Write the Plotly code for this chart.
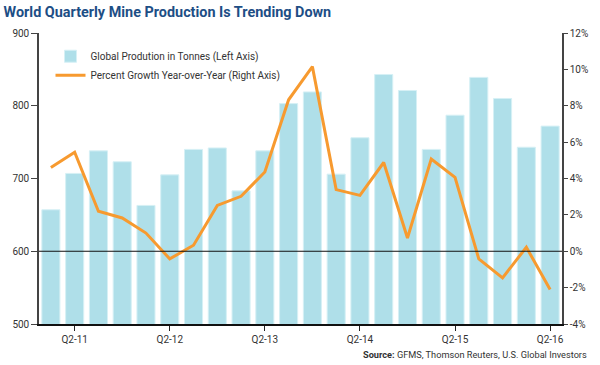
import plotly.graph_objects as go

quarters = ["Q1-11","Q2-11","Q3-11","Q4-11","Q1-12","Q2-12","Q3-12","Q4-12",
            "Q1-13","Q2-13","Q3-13","Q4-13","Q1-14","Q2-14","Q3-14","Q4-14",
            "Q1-15","Q2-15","Q3-15","Q4-15","Q1-16","Q2-16"]
production_tonnes = [657, 707, 738, 723, 663, 705, 740, 742,
                     683, 738, 803, 819, 706, 756, 843, 821,
                     740, 787, 839, 810, 743, 772]
growth_pct = [4.6, 5.45, 2.2, 1.83, 1.0, -0.42, 0.33, 2.52,
              3.02, 4.36, 8.33, 10.15, 3.39, 3.07, 4.88, 0.73,
              5.07, 4.06, -0.42, -1.46, 0.22, -2.1]
x_tick_labels = ["Q2-11","Q2-12","Q2-13","Q2-14","Q2-15","Q2-16"]
left_ticks = [500, 600, 700, 800, 900]
right_ticks = [-4, -2, 0, 2, 4, 6, 8, 10, 12]

FONT = "Roboto"
TXT = "#333333"

fig = go.Figure()
fig.add_trace(go.Bar(
    x=quarters, y=production_tonnes,
    name="Global Prodution in Tonnes (Left Axis)",
    marker=dict(color="#afdfe9", line=dict(color="#d6f0f5", width=1)),
    width=0.76, yaxis="y",
))
fig.add_trace(go.Scatter(
    x=quarters, y=growth_pct, mode="lines",
    name="Percent Growth Year-over-Year (Right Axis)",
    line=dict(color="#f79a2f", width=3), yaxis="y2",
))

fig.update_layout(
    width=600, height=365,
    margin=dict(l=30, r=29, t=33, b=41),
    paper_bgcolor="white", plot_bgcolor="white",
    font=dict(family=FONT, size=10, color=TXT),
    bargap=0.24,
    title=dict(text="<b>World Quarterly Mine Production Is Trending Down</b>",
               x=0.006, xanchor="left", y=0.967, yanchor="middle",
               font=dict(family=FONT, size=14.4, color="#1d4e85")),
    xaxis=dict(
        type="category", categoryorder="array", categoryarray=quarters,
        range=[-0.5, len(quarters) - 0.5],
        tickmode="array", tickvals=x_tick_labels, ticktext=x_tick_labels,
        ticks="outside", ticklen=5, tickcolor="#222", tickwidth=1,
        showline=True, linecolor="#111", linewidth=1.5,
        showgrid=False, zeroline=False,
        tickfont=dict(size=10, color=TXT),
    ),
    yaxis=dict(
        range=[500, 900], tickvals=left_ticks,
        ticks="outside", ticklen=6, tickcolor="#444", tickwidth=1,
        showline=True, linecolor="#444", linewidth=1.5,
        showgrid=False, zeroline=False,
        tickfont=dict(size=10, color=TXT),
    ),
    yaxis2=dict(
        range=[-4, 12], tickvals=right_ticks,
        ticktext=[f"{v}%" for v in right_ticks],
        overlaying="y", side="right",
        ticks="outside", ticklen=4, tickcolor="#444", tickwidth=1,
        showline=True, linecolor="#444", linewidth=1.5,
        showgrid=False, zeroline=False,
        tickfont=dict(size=10, color=TXT),
    ),
    legend=dict(x=0.022, y=0.97, xanchor="left", yanchor="top",
                bgcolor="rgba(0,0,0,0)", font=dict(size=10, color=TXT),
                traceorder="normal", itemwidth=30, tracegroupgap=0),
    showlegend=True,
)

fig.add_shape(type="line", xref="paper", yref="y", x0=0, x1=1, y0=600, y1=600,
              line=dict(color="#111", width=1.2), layer="above")

fig.add_annotation(text="<b>Source:</b> GFMS, Thomson Reuters, U.S. Global Investors",
                   xref="paper", yref="paper", x=1.052, y=-0.078,
                   xanchor="right", yanchor="top", showarrow=False,
                   font=dict(family=FONT, size=9.2, color=TXT))

fig.write_html("out.html", config={"displayModeBar": False},
               post_script="document.body.style.margin='0';document.body.style.padding='0';")
